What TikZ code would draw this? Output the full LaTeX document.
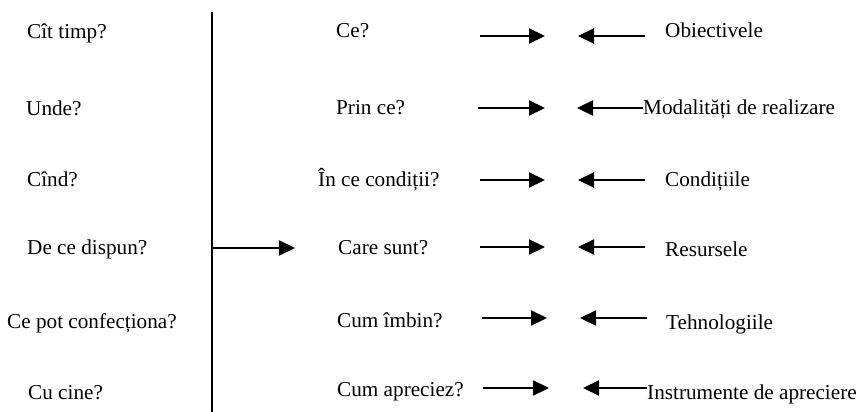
\documentclass[tikz,border=0pt]{standalone}
\usepackage{fontspec}
\setmainfont{Liberation Serif}
\usetikzlibrary{arrows.meta}
\begin{document}
\begin{tikzpicture}[x=1pt,y=-1pt,
  lbl/.style={anchor=base west, inner sep=0pt, font=\fontsize{21.2}{25}\selectfont},
  arr/.style={line width=2.2pt, -{Triangle[length=16pt,width=15pt]}},
  vline/.style={line width=1.5pt}]
\useasboundingbox (0,0) rectangle (857,412);
% left column
\node[lbl] (l1) at (27,39) {Cît timp?};
\node[lbl] (l2) at (26,115) {Unde?};
\node[lbl] (l3) at (27,186) {Cînd?};
\node[lbl] (l4) at (27,254) {De ce dispun?};
\node[lbl] (l5) at (7,328) {Ce pot confecționa?};
\node[lbl] (l6) at (28,399) {Cu cine?};
% vertical line
\coordinate (vtop) at (212,12);
\coordinate (vbot) at (212,412);
\coordinate (vmid) at (212,248);
\coordinate (vend) at (295,248);
\draw[vline] (vtop) -- (vbot);
\draw[arr] (vmid) -- (vend);
% middle column
\node[lbl] (m1) at (336,38) {Ce?};
\node[lbl] (m2) at (336,114) {Prin ce?};
\node[lbl] (m3) at (318,186) {În ce condiții?};
\node[lbl] (m4) at (338,254) {Care sunt?};
\node[lbl] (m5) at (337,327) {Cum îmbin?};
\node[lbl] (m6) at (337,396) {Cum apreciez?};
% right column
\node[lbl] (r1) at (665,38) {Obiectivele};
\node[lbl] (r2) at (643,114) {Modalități de realizare};
\node[lbl] (r3) at (665,186) {Condițiile};
\node[lbl] (r4) at (665,256) {Resursele};
\node[lbl] (r5) at (666,329) {Tehnologiile};
\node[lbl] (r6) at (647,399) {Instrumente de apreciere};
% right-pointing arrows
\coordinate (a1s) at (480,36);  \coordinate (a1e) at (545,36);
\coordinate (a2s) at (478,108); \coordinate (a2e) at (545,108);
\coordinate (a3s) at (480,180); \coordinate (a3e) at (545,180);
\coordinate (a4s) at (480,247); \coordinate (a4e) at (545,247);
\coordinate (a5s) at (482,318); \coordinate (a5e) at (547,318);
\coordinate (a6s) at (483,388); \coordinate (a6e) at (549,388);
\foreach \i in {1,...,6} {\draw[arr] (a\i s) -- (a\i e);}
% left-pointing arrows
\coordinate (b1s) at (645,36);  \coordinate (b1e) at (578,36);
\coordinate (b2s) at (r2.west |- a2s); \coordinate (b2e) at (577,108);
\coordinate (b3s) at (645,180); \coordinate (b3e) at (578,180);
\coordinate (b4s) at (645,247); \coordinate (b4e) at (578,247);
\coordinate (b5s) at (647,318); \coordinate (b5e) at (580,318);
\coordinate (b6s) at (r6.west |- a6s); \coordinate (b6e) at (583,388);
\foreach \i in {1,...,6} {\draw[arr] (b\i s) -- (b\i e);}
\end{tikzpicture}
\end{document}
